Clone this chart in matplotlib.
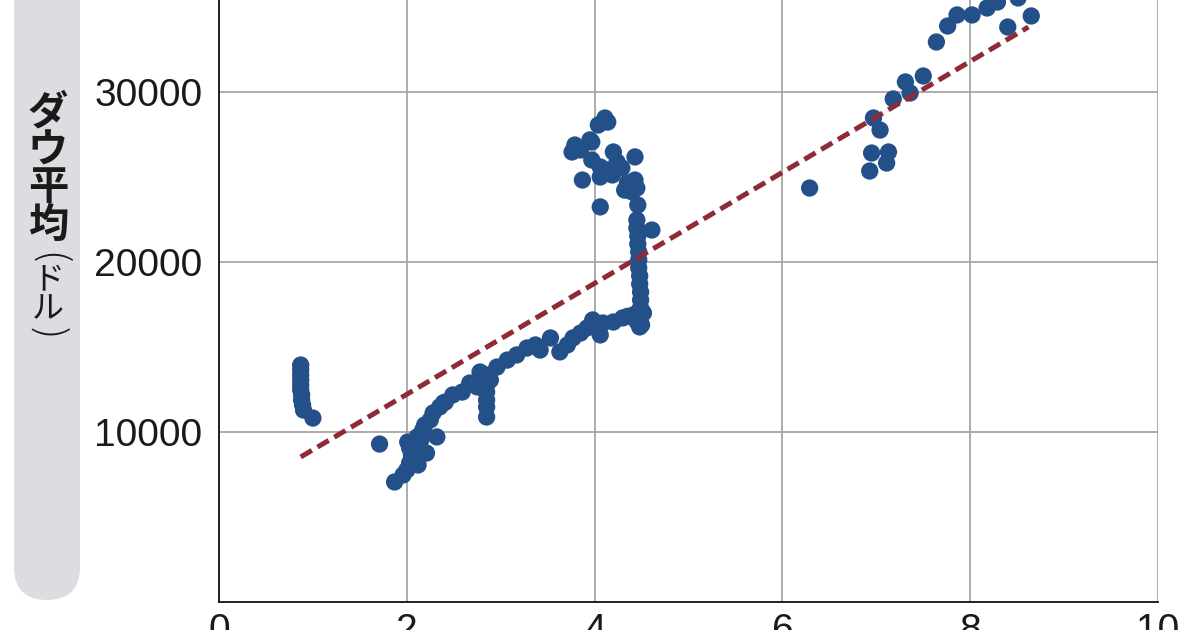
import matplotlib
matplotlib.use("Agg")
import matplotlib.pyplot as plt
from matplotlib.patches import FancyBboxPatch
import numpy as np

# Fed balance sheet (trillion $) vs Dow Jones average ($)
fed_assets = [
    0.87, 0.87, 0.87, 0.87, 0.87, 0.87, 0.88, 0.88, 0.89, 0.90, 1.00,
    1.71,
    1.87, 1.96, 2.00, 2.03, 2.03, 2.12, 2.21, 2.01, 2.11, 2.17, 2.19, 2.25,
    2.32, 2.28, 2.35, 2.41, 2.49, 2.59, 2.39, 2.05, 2.09, 2.15, 2.06, 2.13,
    2.67, 2.75, 2.81, 2.89, 2.78, 2.85, 2.85, 2.85, 2.85, 2.85, 2.85, 2.83,
    2.96, 3.07, 3.17, 3.28, 3.37, 3.42, 3.53, 3.63, 3.71, 3.77, 3.85, 3.92,
    3.98, 4.06, 4.09, 4.20, 4.30, 4.41, 4.48, 4.48, 4.52, 4.35, 4.45, 4.50,
    4.45, 4.45, 4.46, 4.46, 4.47, 4.47, 4.47, 4.48, 4.48, 4.49, 4.49, 4.49,
    4.46, 4.61,
    4.11, 4.14, 4.04, 3.79, 3.76, 3.97, 3.85, 3.97, 3.87, 4.20, 4.43, 4.06,
    4.13, 4.24, 4.29, 4.06, 4.19, 4.35, 4.43, 4.45, 4.32, 4.40, 4.06, 3.95,
    6.29, 6.93, 6.95, 7.11, 7.13, 6.97, 7.04, 7.18, 7.31, 7.36, 7.50, 7.64,
    7.76, 7.86, 8.02, 8.18, 8.29, 8.40, 8.51, 8.65,
]
dow_average = [
    13940, 13650, 13350, 13060, 12760, 12470, 12180, 11880, 11590, 11290, 10820,
    9290,
    7060, 7470, 7760, 8180, 9060, 8060, 8760, 9410, 9710, 10120, 10410, 10710,
    9710, 11120, 11470, 11760, 12180, 12350, 11710, 8650, 8350, 9530, 8940, 9230,
    12880, 12650, 13350, 13060, 13530, 13350, 12760, 12350, 11880, 11470, 10880, 12470,
    13820, 14230, 14530, 14940, 15120, 14820, 15530, 14710, 15120, 15530, 15820, 16120,
    16590, 15710, 16410, 16470, 16710, 16880, 17180, 16180, 17000, 16800, 16500, 16300,
    22470, 22000, 21530, 21060, 20590, 20120, 19650, 19180, 18710, 18230, 17760, 17290,
    23350, 21880,
    28470, 28230, 28060, 26880, 26470, 27060, 26590, 26000, 24820, 26470, 26180, 25590,
    25410, 25880, 25530, 25000, 25120, 24650, 24820, 24350, 24230, 24120, 23240, 27180,
    24350, 25350, 26410, 25820, 26470, 28470, 27760, 29590, 30590, 29940, 30940, 32940,
    33880, 34530, 34530, 34940, 35290, 33820, 35530, 34470,
]

# regression line end points
trend_x = [0.87, 8.62]
trend_y = [8530, 33820]

x_ticks = [0, 2, 4, 6, 8, 10]
y_ticks = [10000, 20000, 30000]
y_label_main = "ダウ平均"
y_label_unit = "ドル"

W, H, DPI = 12, 6.3, 100
fig = plt.figure(figsize=(W, H), dpi=DPI)
fig.patch.set_facecolor("white")

# grey label pill
pill = FancyBboxPatch((0.14, 0.30), 0.66, 7.0,
                      boxstyle="round,pad=0,rounding_size=0.33",
                      transform=fig.dpi_scale_trans,
                      facecolor="#dcdde0", edgecolor="none", zorder=0)
fig.patches.append(pill)

jp = ["Noto Sans CJK JP", "DejaVu Sans"]
xc = 48 / 1200
# main label, stacked vertically
fig.text(xc, 1 - 93 / 630, "\n".join(y_label_main), fontsize=29, family=jp,
         ha="center", va="top", color="#1a1a1a", weight="bold",
         linespacing=0.88, multialignment="center")
# unit "(ドル)" stacked, parentheses turned sideways
fig.text(xc, 1 - 258 / 630, "(", fontsize=28, family=jp, ha="center",
         va="center", rotation=-90, rotation_mode="anchor",
         color="#1a1a1a", weight="light")
fig.text(xc, 1 - 294 / 630, "\n".join(y_label_unit), fontsize=23, family=jp,
         ha="center", va="center", color="#1a1a1a", linespacing=0.9,
         multialignment="center")
fig.text(xc, 1 - 333 / 630, ")", fontsize=28, family=jp, ha="center",
         va="center", rotation=-90, rotation_mode="anchor",
         color="#1a1a1a", weight="light")

ax = fig.add_axes([219 / 1200, 28 / 630, (1158 - 219) / 1200, 602 / 630])
ax.set_xlim(0, 10)
ax.set_ylim(0, 35410)

ax.grid(True, color="#a6a6a6", linewidth=1.3, zorder=0)
ax.set_axisbelow(True)

ax.scatter(fed_assets, dow_average, s=155, color="#24508a",
           edgecolors="none", zorder=3, clip_on=True)
ax.plot(trend_x, trend_y, color="#8e2b36", linewidth=3.6,
        dashes=(2.6, 1.3), zorder=4)

for side in ("top", "right"):
    ax.spines[side].set_visible(False)
for side in ("left", "bottom"):
    ax.spines[side].set_color("#111111")
    ax.spines[side].set_linewidth(1.3)

ax.set_xticks(x_ticks)
ax.set_xticklabels([str(v) for v in x_ticks])
ax.set_yticks(y_ticks)
ax.set_yticklabels([str(v) for v in y_ticks])
ax.tick_params(axis="both", length=0, labelsize=28, colors="#1a1a1a")
ax.tick_params(axis="y", pad=12)
ax.tick_params(axis="x", pad=8)
for lab in ax.get_xticklabels() + ax.get_yticklabels():
    lab.set_family(["Liberation Sans", "DejaVu Sans"])

fig.savefig("out.png", dpi=DPI)
